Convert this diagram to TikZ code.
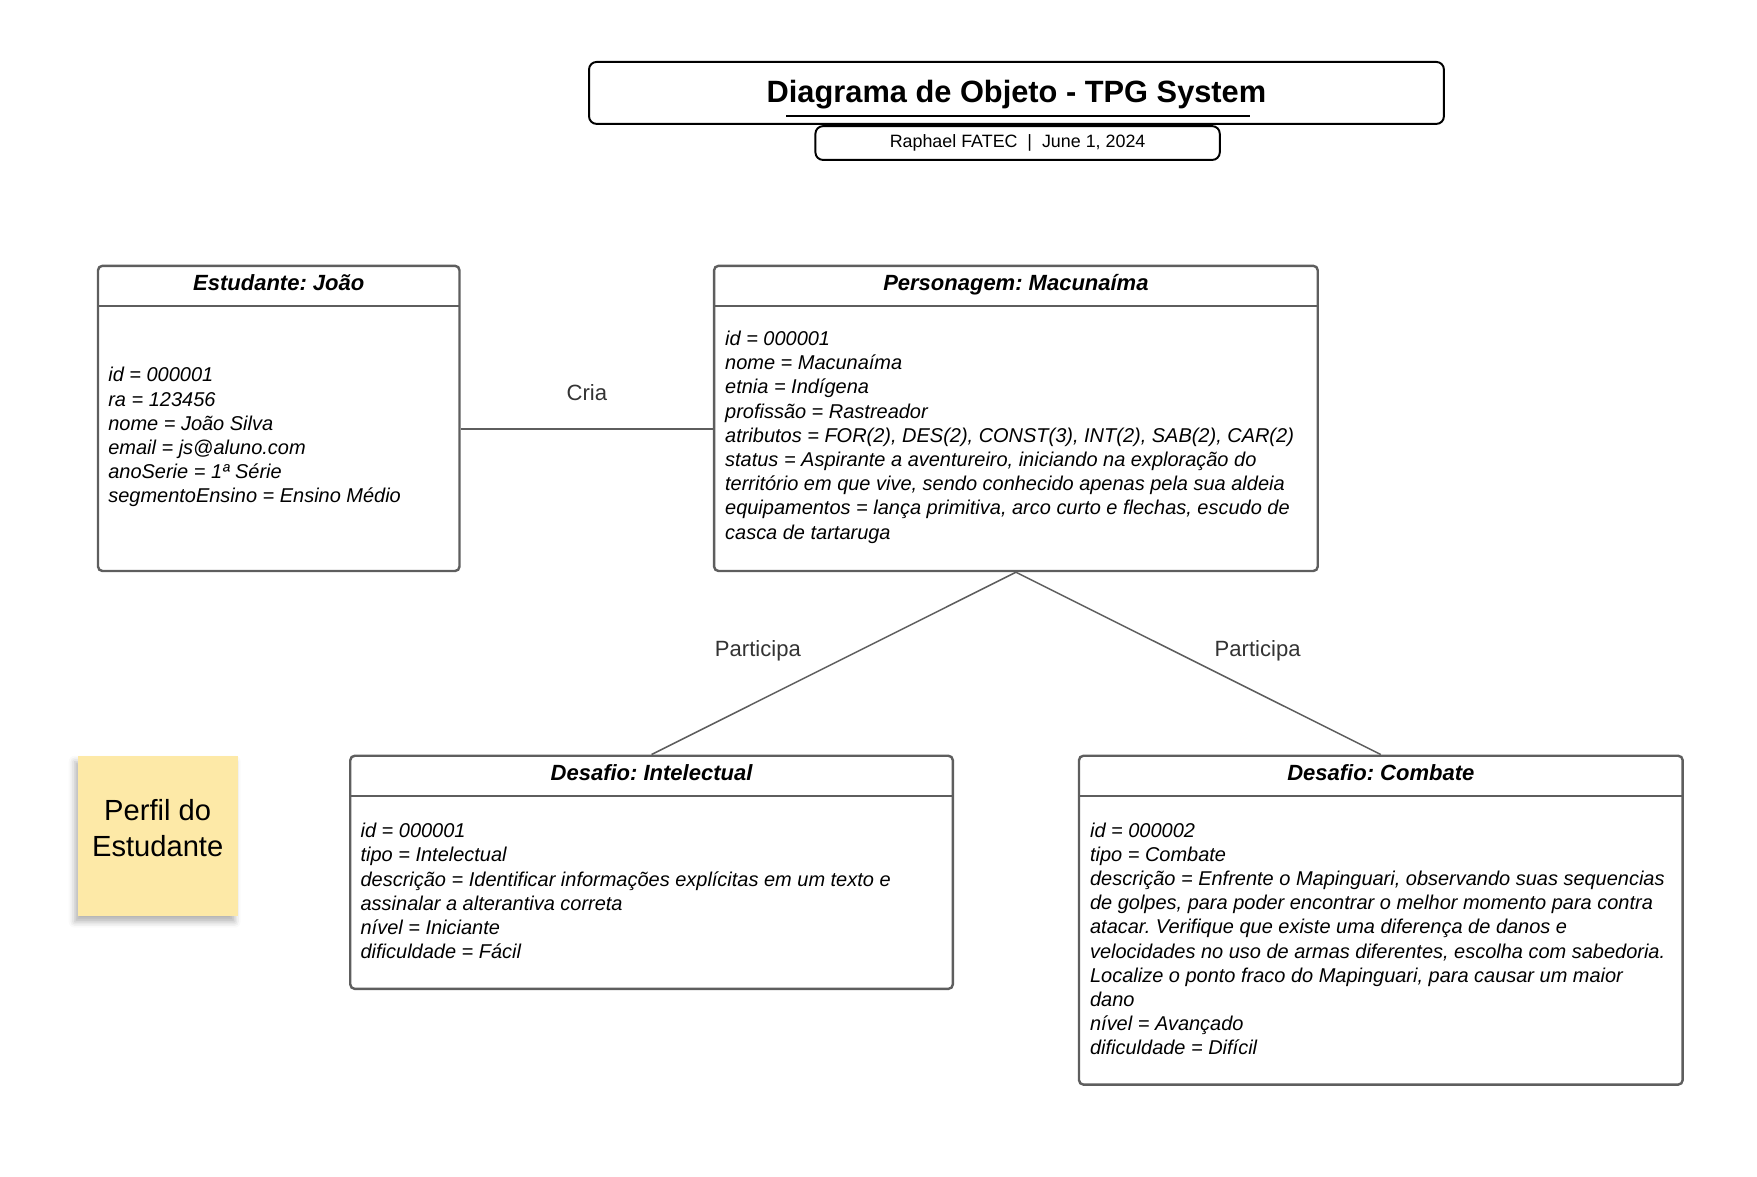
\documentclass[tikz,border=0pt]{standalone}
\usepackage{fontspec}
\setmainfont{Liberation Sans}
\usetikzlibrary{positioning,shadows.blur}
\definecolor{borda}{HTML}{5E5E5E}
\definecolor{nota}{HTML}{FDE9A7}
\definecolor{rotulo}{HTML}{333333}
\tikzset{
  objbox/.style={draw=borda, line width=1.6pt, rounded corners=3pt, inner sep=0pt},
  objline/.style={draw=borda, line width=1.6pt, shorten <=0.8pt, shorten >=0.8pt},
  objtitle/.style={font=\fontsize{14.65}{17}\selectfont\bfseries\itshape, text height=0.92em, text depth=0.21em},
  attr/.style={anchor=west, align=left, inner sep=0pt, font=\fontsize{13.3}{16.1}\selectfont\itshape},
  link/.style={draw=borda, line width=1pt},
  rot/.style={text=rotulo, font=\fontsize{14.7}{17}\selectfont},
  postit/.style={fill=nota, minimum width=106.5pt, minimum height=106.5pt,
    blur shadow={shadow xshift=-2pt, shadow yshift=-4pt, shadow blur radius=4pt, shadow opacity=30}}
}
\frenchspacing
\begin{document}
\begin{tikzpicture}[x=0.75pt, y=-0.75pt]
\useasboundingbox (0,0) rectangle (1560,1045);

% cabecalho
\node[draw=black, line width=1.3pt, rounded corners=5pt, minimum width=569.25pt, minimum height=41.25pt] (titulo) at (902.5,82.5) {};
\node[font=\fontsize{20.5}{24}\selectfont\bfseries] (titulo-txt) at (902.5,84) {Diagrama de Objeto - TPG System};
\draw[line width=1.3pt] (698,103) -- (1110,103);
\node[draw=black, line width=1.3pt, rounded corners=5pt, minimum width=269.25pt, minimum height=22.5pt, font=\fontsize{11.9}{14}\selectfont] (autor) at (903.5,127) {Raphael FATEC\ \ |\ \ June 1, 2024};

% objetos
\node[objbox, minimum width=240.75pt, minimum height=203.25pt] (estudante) at (247.5,371.5) {};
\draw[objline] ([yshift=-27.75pt]estudante.north west) -- ([yshift=-27.75pt]estudante.north east);
\node[objtitle] (estudante-t) at ([yshift=-13.5pt]estudante.north) {Estudante: João};
\node[attr] (estudante-a) at ([xshift=7.5pt,yshift=-12.5pt]estudante.west) {id = 000001\\ ra = 123456\\ nome = João Silva\\ email = js@aluno.com\\ anoSerie = 1ª Série\\ segmentoEnsino = Ensino Médio};

\node[objbox, minimum width=402pt, minimum height=203.25pt] (personagem) at (902,371.5) {};
\draw[objline] ([yshift=-27.75pt]personagem.north west) -- ([yshift=-27.75pt]personagem.north east);
\node[objtitle] (personagem-t) at ([yshift=-13.5pt]personagem.north) {Personagem: Macunaíma};
\node[attr] (personagem-a) at ([xshift=8pt,yshift=-12.5pt]personagem.west) {id = 000001\\ nome = Macunaíma\\ etnia = Indígena\\ profissão = Rastreador\\ atributos = FOR(2), DES(2), CONST(3), INT(2), SAB(2), CAR(2)\\ status = Aspirante a aventureiro, iniciando na exploração do\\ território em que vive, sendo conhecido apenas pela sua aldeia\\ equipamentos = lança primitiva, arco curto e flechas, escudo de\\ casca de tartaruga};

\node[objbox, minimum width=401.25pt, minimum height=155.25pt] (intelectual) at (578.5,774.5) {};
\draw[objline] ([yshift=-27.75pt]intelectual.north west) -- ([yshift=-27.75pt]intelectual.north east);
\node[objtitle] (intelectual-t) at ([yshift=-13.5pt]intelectual.north) {Desafio: Intelectual};
\node[attr] (intelectual-a) at ([xshift=7.5pt,yshift=-12.5pt]intelectual.west) {id = 000001\\ tipo = Intelectual\\ descrição = Identificar informações explícitas em um texto e\\ assinalar a alterantiva correta\\ nível = Iniciante\\ dificuldade = Fácil};

\node[objbox, minimum width=402pt, minimum height=219pt] (combate) at (1226,817) {};
\draw[objline] ([yshift=-27.75pt]combate.north west) -- ([yshift=-27.75pt]combate.north east);
\node[objtitle] (combate-t) at ([yshift=-13.5pt]combate.north) {Desafio: Combate};
\node[attr] (combate-a) at ([xshift=8pt,yshift=-12.5pt]combate.west) {id = 000002\\ tipo = Combate\\ descrição = Enfrente o Mapinguari, observando suas sequencias\\ de golpes, para poder encontrar o melhor momento para contra\\ atacar. Verifique que existe uma diferença de danos e\\ velocidades no uso de armas diferentes, escolha com sabedoria.\\ Localize o ponto fraco do Mapinguari, para causar um maior\\ dano\\ nível = Avançado\\ dificuldade = Difícil};

% nota
\node[postit] (perfil) at (140,742) {};
\node[align=center, font=\fontsize{19.4}{24}\selectfont] (perfil-txt) at (140,735) {Perfil do\\ Estudante};

% ligacoes
\draw[link] ([yshift=-7.1pt]estudante.east) -- ([yshift=-7.1pt]personagem.west) node[rot, midway, yshift=24pt] {Cria};
\draw[link] (personagem.south) -- (intelectual.north) node[rot, pos=0.43, xshift=-67.5pt] {Participa};
\draw[link] (personagem.south) -- (combate.north) node[rot, pos=0.43, xshift=56.5pt] {Participa};
\end{tikzpicture}
\end{document}
